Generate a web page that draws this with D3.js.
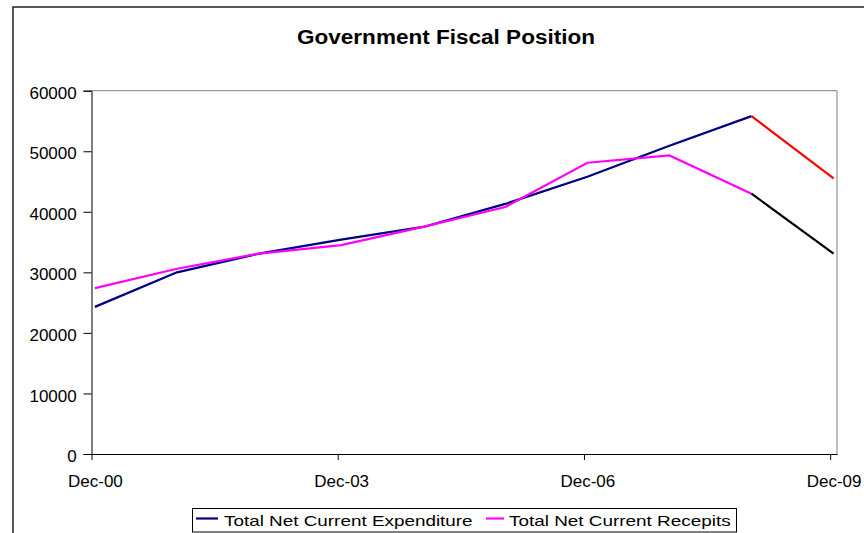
<!DOCTYPE html>
<html>
<head>
<meta charset="utf-8">
<script src="https://cdn.jsdelivr.net/npm/d3@7"></script>
<style>
  html, body { margin: 0; padding: 0; background: #fff; }
  svg { display: block; font-family: "Liberation Sans", Arial, sans-serif; }
</style>
</head>
<body>
<svg id="chart" width="864" height="533"></svg>
<script>
// Annual observations (December of each year), in months since Dec-00
const periods = ["Dec-00", "Dec-01", "Dec-02", "Dec-03", "Dec-04", "Dec-05", "Dec-06", "Dec-07", "Dec-08", "Dec-09"];
const monthIndex = [0, 12, 24, 36, 48, 60, 72, 84, 96, 108];
const expenditure = [24300, 30000, 33100, 35400, 37500, 41300, 45800, 50900, 55800, 45500];
const receipts = [27400, 30600, 33100, 34500, 37500, 40800, 48100, 49300, 43000, 33100];
const projectionFrom = 8; // last segment (Dec-08 -> Dec-09) is a projection
const xTickMonths = [0, 36, 72, 108];
const xTickLabels = ["Dec-00", "Dec-03", "Dec-06", "Dec-09"];
const yTicks = [0, 10000, 20000, 30000, 40000, 50000, 60000];
const seriesNames = ["Total Net Current Expenditure", "Total Net Current Recepits"];

const svg = d3.select("#chart");
const plot = { left: 91.5, right: 837, top: 90.7, bottom: 454 };

// chart frame (extends past the right and bottom edges)
svg.append("rect")
  .attr("x", 13).attr("y", 7).attr("width", 1000).attr("height", 700)
  .attr("fill", "#fff").attr("stroke", "#222").attr("stroke-width", 1.5);

svg.append("text")
  .attr("x", 297).attr("y", 44)
  .attr("font-size", 19.5).attr("font-weight", "bold")
  .attr("textLength", 298).attr("lengthAdjust", "spacingAndGlyphs")
  .text("Government Fiscal Position");

const x = d3.scaleLinear().domain([0, 109]).range([plot.left, plot.right]);
const y = d3.scaleLinear().domain([0, 60000]).range([plot.bottom, plot.top]);
const mid = m => x(m + 0.5); // points sit in the middle of their month

// plot area border (top and right)
svg.append("path")
  .attr("d", `M${plot.left},${plot.top}H${plot.right}V${plot.bottom}`)
  .attr("fill", "none").attr("stroke", "#808080").attr("stroke-width", 1);

// y axis
const yAxis = svg.append("g")
  .attr("transform", `translate(${plot.left},0)`)
  .call(d3.axisLeft(y).tickValues(yTicks).tickSize(8).tickPadding(6).tickFormat(d3.format("d")));
yAxis.select(".domain").attr("stroke", "#000");
yAxis.selectAll(".tick line").attr("stroke", "#000");
yAxis.selectAll(".tick text")
  .attr("font-family", "Liberation Sans, Arial, sans-serif")
  .attr("font-size", 17).attr("fill", "#000")
  .attr("dy", null).attr("y", 7.6).attr("x", -14.8);

// x axis
const xAxis = svg.append("g")
  .attr("transform", `translate(0,${plot.bottom})`)
  .call(d3.axisBottom(x).tickValues(xTickMonths).tickSize(6).tickSizeOuter(0)
    .tickFormat((d, i) => xTickLabels[i]));
xAxis.select(".domain").attr("stroke", "#000");
xAxis.selectAll(".tick line").attr("stroke", "#000");
xAxis.selectAll(".tick text")
  .attr("font-family", "Liberation Sans, Arial, sans-serif")
  .attr("font-size", 17).attr("fill", "#000")
  .attr("dy", null).attr("y", 32.7).attr("x", x(0.5) - x(0));

// lines
const line = d3.line().x(d => mid(d.m)).y(d => y(d.v));
function pts(values, from, to) {
  return d3.range(from, to + 1).map(i => ({ m: monthIndex[i], v: values[i] }));
}
const last = periods.length - 1;
const segments = [
  { values: expenditure, from: 0, to: projectionFrom, color: "#000080" },
  { values: receipts, from: 0, to: projectionFrom, color: "#FF00FF" },
  { values: expenditure, from: projectionFrom, to: last, color: "#FF0000" },
  { values: receipts, from: projectionFrom, to: last, color: "#000000" }
];
svg.append("g").selectAll("path").data(segments).join("path")
  .attr("d", s => line(pts(s.values, s.from, s.to)))
  .attr("fill", "none").attr("stroke", s => s.color)
  .attr("stroke-width", 2.2).attr("stroke-linejoin", "miter");

// legend
const legend = svg.append("g");
legend.append("rect")
  .attr("x", 192.5).attr("y", 508.5).attr("width", 544).attr("height", 23.5)
  .attr("fill", "#fff").attr("stroke", "#000").attr("stroke-width", 1);
const legendItems = [
  { name: seriesNames[0], color: "#000080", x0: 196, x1: 218, tx: 224, tl: 248.6 },
  { name: seriesNames[1], color: "#FF00FF", x0: 486, x1: 504, tx: 509, tl: 221.6 }
];
legendItems.forEach(it => {
  legend.append("line")
    .attr("x1", it.x0).attr("x2", it.x1).attr("y1", 518.5).attr("y2", 518.5)
    .attr("stroke", it.color).attr("stroke-width", 2.2);
  legend.append("text")
    .attr("x", it.tx).attr("y", 525.7).attr("font-size", 15)
    .attr("textLength", it.tl).attr("lengthAdjust", "spacingAndGlyphs")
    .text(it.name);
});
</script>
</body>
</html>
